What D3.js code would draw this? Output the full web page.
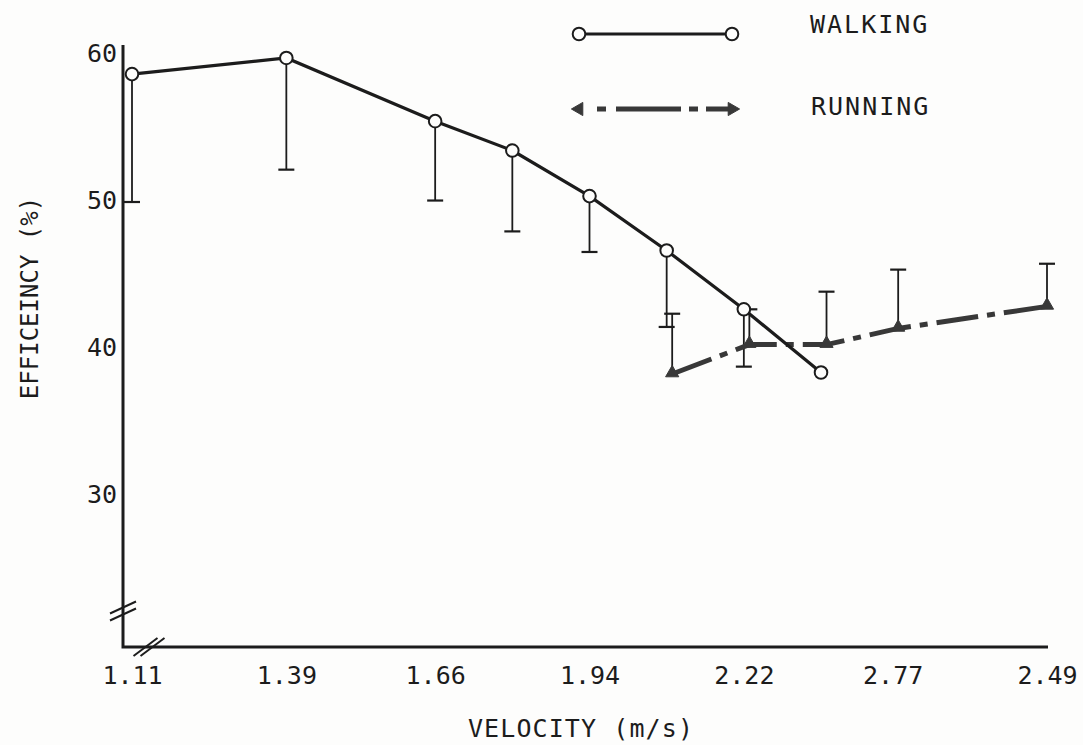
<!DOCTYPE html>
<html>
<head>
<meta charset="utf-8">
<script src="https://cdn.jsdelivr.net/npm/d3@7"></script>
<style>
  html, body { margin: 0; padding: 0; background: #fdfdfc; }
  svg { display: block; }
  text { font-family: "DejaVu Sans Mono", monospace; fill: #1c1c1c; }
</style>
</head>
<body>
<svg id="chart" width="1083" height="745"></svg>
<script>
// Velocity axis: tick positions (m/s) and the labels printed under them
const velocityTicks = [1.11, 1.39, 1.66, 1.94, 2.22, 2.49, 2.77];
const velocityTickLabels = ["1.11", "1.39", "1.66", "1.94", "2.22", "2.77", "2.49"];
const efficiencyTicks = [30, 40, 50, 60];

// Walking: mean efficiency (%) and lower end of the SD bar
const walkingVelocity   = [1.11, 1.39, 1.66, 1.80, 1.94, 2.08, 2.22, 2.36];
const walkingEfficiency = [58.7, 59.8, 55.5, 53.5, 50.4, 46.7, 42.7, 38.4];
const walkingLower      = [50.0, 52.2, 50.1, 48.0, 46.6, 41.5, 38.8, null];

// Running: mean efficiency (%) and upper end of the SD bar
const runningVelocity   = [2.09, 2.23, 2.37, 2.50, 2.77];
const runningEfficiency = [38.3, 40.3, 40.3, 41.4, 42.9];
const runningUpper      = [42.4, 42.7, 43.9, 45.4, 45.8];

const seriesNames = ["WALKING", "RUNNING"];

const svg = d3.select("#chart");
const ink = "#1c1c1c";
const runInk = "#383838";

const axisX0 = 123, axisY0 = 647, axisTop = 45, axisRight = 1048;

const x = d3.scaleLinear().domain([1.11, 2.77]).range([132, 1047]);
const y = d3.scaleLinear().domain([30, 60]).range([496, 55]);

// ---- axis frame ----
const frame = svg.append("g").attr("stroke", ink).attr("fill", "none");
frame.append("path")
  .attr("d", `M${axisX0},${axisTop}V${axisY0}H${axisRight}`)
  .attr("stroke-width", 3).attr("stroke-linejoin", "miter");

// break marks on both axes
const yBreak = 611, xBreak = 149;
[-3.5, 3.5].forEach(o => {
  frame.append("line")
    .attr("x1", axisX0 - 13).attr("y1", yBreak + o + 6)
    .attr("x2", axisX0 + 13).attr("y2", yBreak + o - 6)
    .attr("stroke-width", 2);
  frame.append("line")
    .attr("x1", xBreak + o - 12).attr("y1", axisY0 + 9)
    .attr("x2", xBreak + o + 12).attr("y2", axisY0 - 9)
    .attr("stroke-width", 2);
});

// ---- axes (labels only) ----
const yAxis = svg.append("g")
  .attr("transform", `translate(${axisX0},0)`)
  .call(d3.axisLeft(y).tickValues(efficiencyTicks).tickSize(0).tickPadding(6));
yAxis.select(".domain").remove();
yAxis.selectAll("text")
  .attr("font-size", 25).attr("dy", "0.24em")
  .style("font-family", '"DejaVu Sans Mono", monospace').attr("fill", ink);

const xAxis = svg.append("g")
  .attr("transform", `translate(0,${axisY0})`)
  .call(d3.axisBottom(x).tickValues(velocityTicks).tickSize(0).tickPadding(19)
    .tickFormat((d, i) => velocityTickLabels[i]));
xAxis.select(".domain").remove();
xAxis.selectAll("text")
  .attr("font-size", 25)
  .style("font-family", '"DejaVu Sans Mono", monospace').attr("fill", ink);

// axis titles
svg.append("text")
  .attr("x", 581).attr("y", 737)
  .attr("text-anchor", "middle").attr("font-size", 25)
  .style("letter-spacing", "1.1px")
  .text("VELOCITY (m/s)");

svg.append("text")
  .attr("transform", "translate(38,298) rotate(-90)")
  .attr("text-anchor", "middle").attr("font-size", 24)
  .text("EFFICEINCY (%)");

// ---- data ----
const walking = walkingVelocity.map((v, i) => ({ v, e: walkingEfficiency[i], lo: walkingLower[i] }));
const running = runningVelocity.map((v, i) => ({ v, e: runningEfficiency[i], hi: runningUpper[i] }));

const capHalf = 8;

// SD bars: walking below the mean, running above
const bars = svg.append("g").attr("stroke", ink).attr("stroke-width", 1.8).attr("fill", "none");
walking.filter(d => d.lo != null).forEach(d => {
  bars.append("line").attr("x1", x(d.v)).attr("x2", x(d.v)).attr("y1", y(d.e)).attr("y2", y(d.lo));
  bars.append("line").attr("x1", x(d.v) - capHalf).attr("x2", x(d.v) + capHalf)
    .attr("y1", y(d.lo)).attr("y2", y(d.lo)).attr("stroke-width", 2.2);
});
running.forEach(d => {
  bars.append("line").attr("x1", x(d.v)).attr("x2", x(d.v)).attr("y1", y(d.e)).attr("y2", y(d.hi));
  bars.append("line").attr("x1", x(d.v) - capHalf).attr("x2", x(d.v) + capHalf)
    .attr("y1", y(d.hi)).attr("y2", y(d.hi)).attr("stroke-width", 2.2);
});

const line = d3.line().x(d => x(d.v)).y(d => y(d.e));
const runDash = "42,9,8,9";

// running line (dash-dot)
svg.append("path").datum(running)
  .attr("d", line).attr("fill", "none")
  .attr("stroke", runInk).attr("stroke-width", 5)
  .attr("stroke-dasharray", runDash);

// walking line (solid)
svg.append("path").datum(walking)
  .attr("d", line).attr("fill", "none")
  .attr("stroke", ink).attr("stroke-width", 3.2);

const tri = d3.symbol().type(d3.symbolTriangle).size(75);

svg.append("g").selectAll("path").data(running).join("path")
  .attr("d", tri)
  .attr("transform", d => `translate(${x(d.v)},${y(d.e) - 1})`)
  .attr("fill", runInk).attr("stroke", runInk).attr("stroke-width", 1);

svg.append("g").selectAll("circle").data(walking).join("circle")
  .attr("cx", d => x(d.v)).attr("cy", d => y(d.e)).attr("r", 6.3)
  .attr("fill", "#fdfdfc").attr("stroke", ink).attr("stroke-width", 2);

// ---- legend ----
const legend = svg.append("g");
const lx0 = 579, lx1 = 732;

legend.append("line")
  .attr("x1", lx0).attr("x2", lx1).attr("y1", 34).attr("y2", 34)
  .attr("stroke", ink).attr("stroke-width", 3.2);
[lx0, lx1].forEach(cx => legend.append("circle")
  .attr("cx", cx).attr("cy", 34).attr("r", 6.3)
  .attr("fill", "#fdfdfc").attr("stroke", ink).attr("stroke-width", 2));
legend.append("text")
  .attr("x", 810).attr("y", 33).attr("font-size", 25)
  .style("letter-spacing", "2px").text(seriesNames[0]);

legend.append("line")
  .attr("x1", lx0).attr("x2", lx1).attr("y1", 109).attr("y2", 109)
  .attr("stroke", runInk).attr("stroke-width", 5)
  .attr("stroke-dasharray", "0,18,9,10,65,8,9,8,30");
[[lx0, -90], [lx1, 90]].forEach(([cx, r]) => legend.append("path")
  .attr("d", tri)
  .attr("transform", `translate(${cx},109) rotate(${r})`)
  .attr("fill", runInk).attr("stroke", runInk).attr("stroke-width", 1));
legend.append("text")
  .attr("x", 811).attr("y", 115).attr("font-size", 25)
  .style("letter-spacing", "2px").text(seriesNames[1]);
</script>
</body>
</html>
